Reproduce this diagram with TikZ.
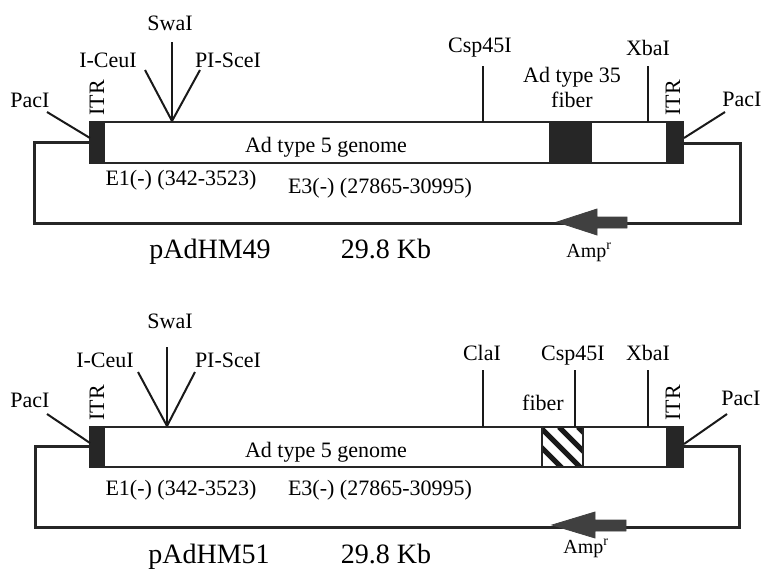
\documentclass[tikz,border=0pt]{standalone}
\usepackage{fontspec}
\setmainfont{Liberation Serif}
\begin{document}
\begin{tikzpicture}[x=1pt,y=-1pt,
  lbl/.style={font=\fontsize{22}{26}\selectfont, anchor=base, inner sep=0pt},
  big/.style={font=\fontsize{28}{32}\selectfont, anchor=base, inner sep=0pt},
  amp/.style={font=\fontsize{20}{23}\selectfont, anchor=base, inner sep=0pt},
  itr/.style={font=\fontsize{22}{26}\selectfont, rotate=90, inner sep=0pt},
  site/.style={line width=2pt, black!90},
  bb/.style={line width=3pt, black!85, line join=miter},
  gbox/.style={draw=black!85, line width=2.5pt, fill=white},
  dark/.style={fill=black!85, draw=black!85, line width=2pt},
  ampar/.style={fill=black!75, draw=black!75, line width=0.8pt, line join=miter}]
\useasboundingbox (0,0) rectangle (765,570);

% ================= TOP: pAdHM49 =================
\coordinate (tbl) at (90,142);
\coordinate (tl) at (34,142);
\coordinate (tbotl) at (34,223);
\coordinate (tbotr) at (740,223);
\coordinate (tr) at (740,143);
\coordinate (tbr) at (683,143);
\draw[bb] (tbl) -- (tl) -- (tbotl) -- (tbotr) -- (tr) -- (tbr);

\draw[gbox] (90,122) rectangle (683,163);
\draw[dark] (90,122) rectangle (104,163);
\draw[dark] (667,122) rectangle (683,163);
\draw[dark] (550,122) rectangle (591,163);

% Amp arrow
\fill[ampar] (557,222) -- (597,209) -- (597,217) -- (627,217) -- (627,228) -- (597,228) -- (597,235) -- cycle;

% labels
\node[lbl] (tpacL) at (30,107) {PacI};
\node[itr] (titrL) at (97,98) {ITR};
\node[lbl] (tceu) at (108,67) {I-CeuI};
\node[lbl] (tswa) at (170,30) {SwaI};
\node[lbl] (tsce) at (228,67) {PI-SceI};
\node[lbl] (tcsp) at (480,52) {Csp45I};
\node[lbl] (tf35a) at (572,82) {Ad type 35};
\node[lbl] (tf35b) at (572,107) {fiber};
\node[lbl] (txba) at (648,55) {XbaI};
\node[itr] (titrR) at (673,98) {ITR};
\node[lbl] (tpacR) at (742,106) {PacI};
\node[lbl] (tgen) at (326,152) {Ad type 5 genome};
\node[lbl] (te1) at (181,185) {E1(-) (342-3523)};
\node[lbl] (te3) at (380,193) {E3(-) (27865-30995)};
\node[big] (tname) at (210,258) {pAdHM49};
\node[big] (tsize) at (386,258) {29.8 Kb};
\node[amp] (tamp) at (589,257) {Amp\textsuperscript{r}};

% site lines
\coordinate (tpacLa) at (47,112); \coordinate (tpacLb) at (90,138);
\coordinate (tceua) at (145,70); \coordinate (tswaa) at (172,42);
\coordinate (tscea) at (200,70); \coordinate (tsite) at (172,121);
\coordinate (tcspa) at (483,66); \coordinate (tcspb) at (483,122);
\coordinate (txbaa) at (648,66); \coordinate (txbab) at (648,122);
\coordinate (tpacRa) at (725,112); \coordinate (tpacRb) at (684,138);
\draw[site] (tpacLa) -- (tpacLb);
\draw[site] (tceua) -- (tsite);
\draw[site] (tswaa) -- (tsite);
\draw[site] (tscea) -- (tsite);
\draw[site] (tcspa) -- (tcspb);
\draw[site] (txbaa) -- (txbab);
\draw[site] (tpacRa) -- (tpacRb);

% ================= BOTTOM: pAdHM51 =================
\coordinate (bbl) at (90,446);
\coordinate (bl) at (35,446);
\coordinate (bbotl) at (35,527);
\coordinate (bbotr) at (739,527);
\coordinate (br) at (739,446);
\coordinate (bbr) at (683,446);
\draw[bb] (bbl) -- (bl) -- (bbotl) -- (bbotr) -- (br) -- (bbr);

\draw[gbox] (90,427) rectangle (683,467);
\draw[dark] (90,427) rectangle (104,467);
\draw[dark] (667,427) rectangle (683,467);
% hatched fiber
\begin{scope}
  \clip (542,427) rectangle (583,467);
  \fill[white] (542,427) rectangle (583,467);
  \foreach \s in {521,540,559,578} {
    \draw[line width=5pt, black!90] (\s,427) -- (\s+44,471);
  }
\end{scope}
\draw[draw=black!85, line width=2.5pt] (542,427) rectangle (583,467);

% Amp arrow
\fill[ampar] (552,525) -- (595,512) -- (595,520) -- (626,520) -- (626,531) -- (595,531) -- (595,538) -- cycle;

% labels
\node[lbl] (bpacL) at (30,407) {PacI};
\node[itr] (bitrL) at (97,403) {ITR};
\node[lbl] (bceu) at (105,367) {I-CeuI};
\node[lbl] (bswa) at (170,328) {SwaI};
\node[lbl] (bsce) at (228,367) {PI-SceI};
\node[lbl] (bcla) at (482,360) {ClaI};
\node[lbl] (bcsp) at (573,360) {Csp45I};
\node[lbl] (bxba) at (648,360) {XbaI};
\node[lbl] (bfib) at (543,410) {fiber};
\node[itr] (bitrR) at (673,403) {ITR};
\node[lbl] (bpacR) at (741,405) {PacI};
\node[lbl] (bgen) at (326,457) {Ad type 5 genome};
\node[lbl] (be1) at (181,495) {E1(-) (342-3523)};
\node[lbl] (be3) at (380,495) {E3(-) (27865-30995)};
\node[big] (bname) at (209,563) {pAdHM51};
\node[big] (bsize) at (386,563) {29.8 Kb};
\node[amp] (bamp) at (586,553) {Amp\textsuperscript{r}};

% site lines
\coordinate (bpacLa) at (47,414); \coordinate (bpacLb) at (90,443);
\coordinate (bceua) at (138,372); \coordinate (bswaa) at (167,347);
\coordinate (bscea) at (195,372); \coordinate (bsite) at (167,426);
\coordinate (bclaa) at (483,370); \coordinate (bclab) at (483,427);
\coordinate (bcspa) at (575,370); \coordinate (bcspb) at (575,427);
\coordinate (bxbaa) at (648,370); \coordinate (bxbab) at (648,427);
\coordinate (bpacRa) at (727,414); \coordinate (bpacRb) at (684,444);
\draw[site] (bpacLa) -- (bpacLb);
\draw[site] (bceua) -- (bsite);
\draw[site] (bswaa) -- (bsite);
\draw[site] (bscea) -- (bsite);
\draw[site] (bclaa) -- (bclab);
\draw[site] (bcspa) -- (bcspb);
\draw[site] (bxbaa) -- (bxbab);
\draw[site] (bpacRa) -- (bpacRb);
\end{tikzpicture}
\end{document}
